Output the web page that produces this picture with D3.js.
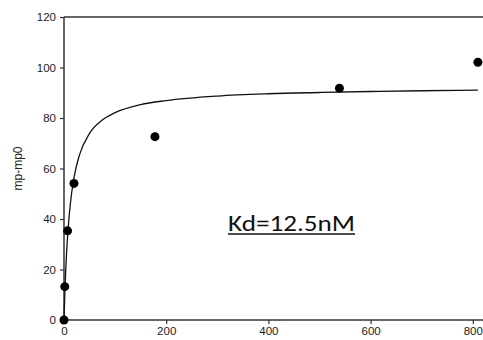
<html>
<body style="margin:0;background:#fff">
<svg class="chart" width="483" height="340"></svg>
</body>
<script src="https://d3js.org/d3.v7.min.js"></script>
<script>
  // measured points
  var concX = [0, 1.5, 7, 19.5, 178, 539, 810];
  var signalY = [0, 13.2, 35.3, 54.1, 72.6, 91.8, 102.1];

  // fitted curve
  var fitX = [0, 2, 5, 10, 15, 20, 30, 50, 75, 100, 150, 200, 300, 400, 500, 600, 700, 810];
  var fitY = [0, 12.7, 26.4, 41, 50.4, 56.9, 65.2, 73.9, 79.2, 82.1, 85.3, 86.9, 88.7, 89.6, 90.1, 90.5, 90.8, 91.0];

  var xTicks = [0, 200, 400, 600, 800];
  var yTicks = [0, 20, 40, 60, 80, 100, 120];
  var yLabel = "mp-mp0";
  var note = "Kd=12.5nM";

  var padLeft = 64, padTop = 17, plotBottom = 320, plotRight = 483;

  var xScale = d3.scaleLinear().domain([0, 820]).range([padLeft, padLeft + 820 * 102.2 / 200]);
  var yScale = d3.scaleLinear().domain([0, 120]).range([plotBottom, padTop]);

  var chart = d3.select(".chart");
  var axisColor = "#333";

  var xAxis = d3.axisBottom(xScale).tickValues(xTicks).tickSize(4).tickSizeOuter(0).tickPadding(3);
  var yAxis = d3.axisLeft(yScale).tickValues(yTicks).tickSize(4).tickSizeOuter(0).tickPadding(4);

  var gx = chart.append("g")
    .attr("transform", "translate(0," + plotBottom + ")")
    .call(xAxis);
  var gy = chart.append("g")
    .attr("transform", "translate(" + padLeft + ",0)")
    .call(yAxis);

  [gx, gy].forEach(function(g) {
    g.select(".domain").remove();
    g.selectAll(".tick line").attr("stroke", axisColor).attr("stroke-width", 1.2);
    g.selectAll(".tick text")
      .attr("fill", "#222")
      .style("font-family", "'Liberation Sans', Arial, sans-serif")
      .style("font-size", "11.5px");
  });

  // frame lines: left, bottom, top
  chart.append("line").attr("x1", padLeft).attr("x2", padLeft).attr("y1", padTop).attr("y2", plotBottom)
    .attr("stroke", axisColor).attr("stroke-width", 1.5);
  chart.append("line").attr("x1", padLeft).attr("x2", plotRight).attr("y1", plotBottom).attr("y2", plotBottom)
    .attr("stroke", axisColor).attr("stroke-width", 1.5);
  chart.append("line").attr("x1", padLeft).attr("x2", plotRight).attr("y1", padTop).attr("y2", padTop)
    .attr("stroke", axisColor).attr("stroke-width", 1.5);

  chart.append("text")
    .attr("transform", "translate(22," + yScale(60) + ") rotate(-90)")
    .attr("text-anchor", "middle")
    .attr("fill", "#222")
    .style("font-family", "'Liberation Sans', Arial, sans-serif")
    .style("font-size", "12px")
    .text(yLabel);

  var fit = fitX.map(function(x, i) { return [x, fitY[i]]; });
  var line = d3.line()
    .x(function(d) { return xScale(d[0]); })
    .y(function(d) { return yScale(d[1]); })
    .curve(d3.curveMonotoneX);

  chart.append("path")
    .datum(fit)
    .attr("d", line)
    .attr("fill", "none")
    .attr("stroke", "#111")
    .attr("stroke-width", 1.3);

  var pts = concX.map(function(x, i) { return {x: x, y: signalY[i]}; });
  chart.selectAll("circle")
      .data(pts)
    .enter().append("circle")
      .attr("cx", function(d) { return xScale(d.x); })
      .attr("cy", function(d) { return yScale(d.y); })
      .attr("r", 4.5)
      .attr("fill", "#000");

  chart.append("text")
    .attr("x", 228)
    .attr("y", 231)
    .attr("fill", "#111")
    .attr("textLength", 127)
    .attr("lengthAdjust", "spacingAndGlyphs")
    .style("font-family", "Carlito, Calibri, 'Open Sans', sans-serif")
    .style("font-size", "23px")
    .text(note);

  chart.append("line")
    .attr("x1", 228).attr("x2", 355)
    .attr("y1", 234).attr("y2", 234)
    .attr("stroke", "#111").attr("stroke-width", 1.6);
</script>
</html>
